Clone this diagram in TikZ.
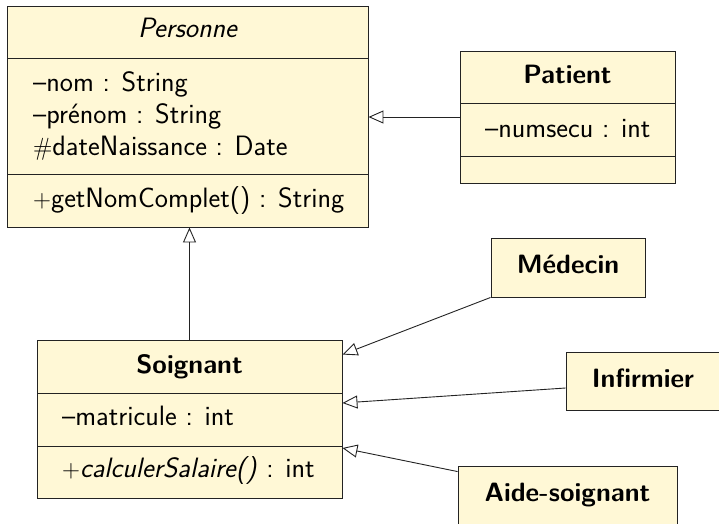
\documentclass[tikz,border=0pt]{standalone}
\usetikzlibrary{arrows.meta}
\definecolor{classfill}{RGB}{255,248,214}
\definecolor{classline}{RGB}{35,35,35}
\newcommand{\umlfont}{\fontsize{28}{33}\selectfont\sffamily}
\newcommand{\umlboldfont}{\fontsize{26.5}{32}\selectfont\sffamily\bfseries}
\tikzset{
  classbox/.style={draw=classline, fill=classfill, line width=0.9pt, rectangle, inner sep=0pt},
  divider/.style={draw=classline, line width=0.9pt},
  member/.style={anchor=base west, inner sep=0pt, font=\umlfont},
  cname/.style={anchor=base, inner sep=0pt, font=\umlboldfont},
  aname/.style={anchor=base, inner sep=0pt, font=\umlfont\itshape},
  inherit/.style={draw=classline, line width=0.9pt, -{Triangle[open, length=15pt, width=13pt]}}
}
\begin{document}
\begin{tikzpicture}[x=1pt, y=-1pt]
  \path[use as bounding box, clip] (0,0) rectangle (719,523);

  % Personne (abstract)
  \node[classbox, minimum width=361pt, minimum height=221pt] (personne) at (187.5,116.5) {};
  \draw[divider] (7,58) -- (368,58);
  \draw[divider] (7,174) -- (368,174);
  \node[aname] (personne-name) at (187.5,37) {Personne};
  \node[member] (p-nom) at (33,91) {--nom : String};
  \node[member] (p-prenom) at (33,123) {--prénom : String};
  \node[member] (p-date) at (33,155) {$\#$dateNaissance : Date};
  \node[member] (p-get) at (33,207) {$+$getNomComplet() : String};

  % Patient
  \node[classbox, minimum width=215pt, minimum height=132pt] (patient) at (567.5,117) {};
  \draw[divider] (460,103) -- (675,103);
  \draw[divider] (460,156) -- (675,156);
  \node[cname] (patient-name) at (567.5,83) {Patient};
  \node[member] (pa-num) at (485,137) {--numsecu : int};

  % Soignant
  \node[classbox, minimum width=305pt, minimum height=158pt] (soignant) at (189.5,419) {};
  \draw[divider] (37,393) -- (342,393);
  \draw[divider] (37,446) -- (342,446);
  \node[cname] (soignant-name) at (189.5,373) {Soignant};
  \node[member] (s-mat) at (62,425) {--matricule : int};
  \node[member] (s-calc) at (62,477) {$+$\textit{calculerSalaire()} : int};

  % Subclasses of Soignant
  \node[classbox, minimum width=154pt, minimum height=59pt] (medecin) at (568,267.5) {};
  \node[cname] (medecin-name) at (568,273) {Médecin};
  \node[classbox, minimum width=154pt, minimum height=58pt] (infirmier) at (643,381) {};
  \node[cname] (infirmier-name) at (643,387) {Infirmier};
  \node[classbox, minimum width=219pt, minimum height=59pt] (aide) at (567.5,495.5) {};
  \node[cname] (aide-name) at (567.5,501.5) {Aide-soignant};

  % Generalisations
  \draw[inherit] (patient.west) -- (patient.west -| personne.east);
  \draw[inherit] (soignant.north) -- (soignant.north |- personne.south);
  \draw[inherit] (medecin.south west) -- ([yshift=-15pt]soignant.north east);
  \draw[inherit] ([yshift=-7pt]infirmier.west) -- ([yshift=16pt]soignant.east);
  \draw[inherit] ([yshift=-6pt]aide.north west) -- ([yshift=-29pt]soignant.east);
\end{tikzpicture}
\end{document}
